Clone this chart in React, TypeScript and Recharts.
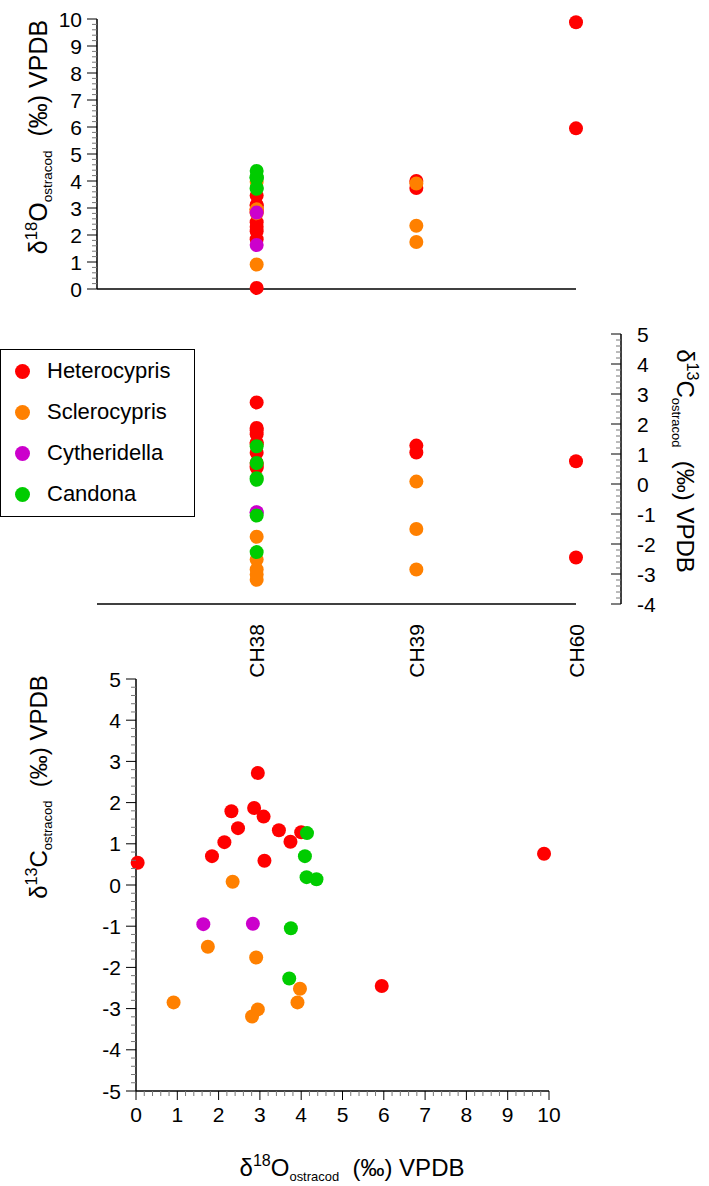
import { Legend, ReferenceLine, Scatter, ScatterChart, XAxis, YAxis } from "recharts";

const FONT = '"Liberation Sans", Arial, Helvetica, sans-serif';

const sites = ["CH38", "CH39", "CH60"];
const species = ["Heterocypris", "Sclerocypris", "Cytheridella", "Candona"];
const colors = ["#ff0000", "#ff8000", "#cc00cc", "#00cc00"];

// per species: site, d18O, d13C
const heteroSite = ["CH38", "CH38", "CH38", "CH38", "CH38", "CH38", "CH38", "CH38", "CH38", "CH38", "CH39", "CH39", "CH60", "CH60"];
const heteroO = [0.04, 2.95, 2.31, 2.86, 3.09, 2.47, 3.46, 2.14, 1.84, 3.11, 4.0, 3.74, 5.95, 9.88];
const heteroC = [0.54, 2.72, 1.79, 1.87, 1.66, 1.38, 1.33, 1.04, 0.7, 0.59, 1.28, 1.05, -2.45, 0.76];

const scleroSite = ["CH38", "CH38", "CH38", "CH38", "CH38", "CH39", "CH39", "CH39"];
const scleroO = [2.91, 3.97, 0.91, 2.95, 2.81, 2.34, 1.74, 3.91];
const scleroC = [-1.76, -2.52, -2.85, -3.02, -3.19, 0.08, -1.5, -2.85];

const cytherSite = ["CH38", "CH38"];
const cytherO = [1.63, 2.83];
const cytherC = [-0.95, -0.94];

const candSite = ["CH38", "CH38", "CH38", "CH38", "CH38", "CH38"];
const candO = [4.14, 4.09, 4.13, 4.37, 3.75, 3.71];
const candC = [1.26, 0.7, 0.19, 0.14, -1.05, -2.27];

const rows = (s: string[], o: number[], c: number[]) =>
  s.map((name, i) => ({ site: sites.indexOf(name) + 1, o: o[i], c: c[i] }));

const series = [
  rows(heteroSite, heteroO, heteroC),
  rows(scleroSite, scleroO, scleroC),
  rows(cytherSite, cytherO, cytherC),
  rows(candSite, candO, candC),
];

const steps = (min: number, max: number) => {
  const out: number[] = [];
  for (let v = min * 5; v <= max * 5; v++) out.push(Math.round(v * 2) / 10);
  return out;
};
const oTicks = steps(0, 10);
const cTicksMid = steps(-4, 5);
const cTicksBottom = steps(-5, 5);

const isMajor = (v: number) => Math.abs(v - Math.round(v)) < 1e-6;

const Dot = (props: any) => <circle cx={props.cx} cy={props.cy} r={7} fill={props.fill} />;

function LeftTick({ x, y, payload }: any) {
  const v = payload.value;
  const major = isMajor(v);
  return (
    <g>
      <line x1={x} x2={x - (major ? 10 : 5)} y1={y} y2={y} stroke={major ? "#000" : "#777"} />
      {major && (
        <text x={x - 15} y={y} dy="0.36em" textAnchor="end" fontSize={21} fontFamily={FONT} fill="#000">
          {Math.round(v)}
        </text>
      )}
    </g>
  );
}

function RightTick({ x, y, payload }: any) {
  const v = payload.value;
  const major = isMajor(v);
  return (
    <g>
      <line x1={x} x2={x - (major ? 10 : 5)} y1={y} y2={y} stroke={major ? "#000" : "#777"} />
      {major && (
        <text x={x + 16} y={y} dy="0.36em" textAnchor="start" fontSize={21} fontFamily={FONT} fill="#000">
          {Math.round(v)}
        </text>
      )}
    </g>
  );
}

function BottomTick({ x, y, payload }: any) {
  const v = payload.value;
  const major = isMajor(v);
  return (
    <g>
      <line x1={x} x2={x} y1={y} y2={y + (major ? 9 : 5)} stroke={major ? "#000" : "#777"} />
      {major && (
        <text x={x} y={y + 31} textAnchor="middle" fontSize={21} fontFamily={FONT} fill="#000">
          {Math.round(v)}
        </text>
      )}
    </g>
  );
}

function SiteTick({ x, y, payload }: any) {
  const tx = x;
  const ty = y + 20;
  return (
    <text
      x={tx}
      y={ty}
      dy="0.36em"
      transform={`rotate(-90, ${tx}, ${ty})`}
      textAnchor="end"
      fontSize={21}
      fontFamily={FONT}
      fill="#000"
    >
      {sites[payload.value - 1]}
    </text>
  );
}

function Title({ x, y, angle, iso, el, size = 24 }: { x: number; y: number; angle: number; iso: string; el: string; size?: number }) {
  return (
    <text
      x={x}
      y={y}
      transform={`rotate(${angle}, ${x}, ${y})`}
      textAnchor="middle"
      fontSize={size}
      fontFamily={FONT}
      fill="#000"
      style={{ whiteSpace: "pre" }}
    >
      <tspan>δ</tspan>
      <tspan fontSize={size * 0.67} dy={-10}>{iso}</tspan>
      <tspan dy={10}>{el}</tspan>
      <tspan fontSize={size * 0.54} dy={5}>ostracod</tspan>
      <tspan dy={-5}>{"  (‰) VPDB"}</tspan>
    </text>
  );
}

function LegendBox({ payload }: any) {
  // keep the series order, not the alphabetical one
  const items = species.map((s, i) => {
    const hit = (payload || []).find((p: any) => p.value === s);
    return { value: s, color: hit ? hit.color : colors[i] };
  });
  return (
    <div
      style={{
        width: 195,
        height: 168,
        border: "1.5px solid #000",
        boxSizing: "border-box",
        background: "#fff",
        position: "relative",
        fontFamily: FONT,
      }}
    >
      {items.map((item, i) => (
        <div
          key={item.value}
          style={{ position: "absolute", left: 0, top: 21 + i * 41 - 13, height: 26, display: "flex", alignItems: "center" }}
        >
          <span style={{ display: "inline-block", width: 15, height: 15, borderRadius: "50%", background: item.color, marginLeft: 14 }} />
          <span style={{ marginLeft: 17, fontSize: 22, lineHeight: "26px", color: "#000" }}>{item.value}</span>
        </div>
      ))}
    </div>
  );
}

const midXMax = (3 * (621 - 97)) / (576 - 97);

export default function App() {
  return (
    <div style={{ position: "absolute", left: 0, top: 0, width: 709, height: 1186, background: "#fff" }}>
      {/* d18O by site */}
      <div style={{ position: "absolute", left: 0, top: 0 }}>
        <ScatterChart width={709} height={300} margin={{ top: 19, right: 133, bottom: 11, left: 0 }}>
          <XAxis type="number" dataKey="site" domain={[0, 3]} hide />
          <YAxis
            type="number"
            dataKey="o"
            domain={[0, 10]}
            ticks={oTicks}
            interval={0}
            width={97}
            tickSize={0}
            tickMargin={0}
            tickLine={false}
            axisLine={{ stroke: "#000", strokeWidth: 1.5 }}
            tick={<LeftTick />}
            label={{ content: () => <Title x={47} y={137} angle={-90} iso="18" el="O" size={25} /> }}
          />
          <ReferenceLine y={0} stroke="#000" strokeWidth={1.5} />
          {series.map((d, i) => (
            <Scatter key={species[i]} name={species[i]} data={d} fill={colors[i]} shape={<Dot />} isAnimationActive={false} />
          ))}
        </ScatterChart>
      </div>

      {/* d13C by site */}
      <div style={{ position: "absolute", left: 0, top: 320 }}>
        <ScatterChart width={709} height={380} margin={{ top: 14, right: 0, bottom: 0, left: 97 }}>
          <XAxis
            type="number"
            dataKey="site"
            domain={[0, midXMax]}
            ticks={[1, 2, 3]}
            interval={0}
            height={96}
            axisLine={false}
            tickLine={false}
            tickSize={0}
            tickMargin={0}
            tick={<SiteTick />}
          />
          <YAxis
            type="number"
            dataKey="c"
            orientation="right"
            domain={[-4, 5]}
            ticks={cTicksMid}
            interval={0}
            width={88}
            tickSize={0}
            tickMargin={0}
            tickLine={false}
            axisLine={{ stroke: "#000", strokeWidth: 1.5 }}
            tick={<RightTick />}
            label={{ content: () => <Title x={677} y={141} angle={90} iso="13" el="C" /> }}
          />
          <ReferenceLine segment={[{ x: 0, y: -4 }, { x: 3, y: -4 }]} stroke="#000" strokeWidth={1.5} />
          {series.map((d, i) => (
            <Scatter key={species[i]} name={species[i]} data={d} fill={colors[i]} shape={<Dot />} isAnimationActive={false} />
          ))}
          <Legend
            layout="vertical"
            align="center"
            verticalAlign="middle"
            content={<LegendBox />}
            wrapperStyle={{ left: 0, top: 29, width: 195, height: 168 }}
          />
        </ScatterChart>
      </div>

      {/* d13C vs d18O */}
      <div style={{ position: "absolute", left: 0, top: 660 }}>
        <ScatterChart width={709} height={526} margin={{ top: 19, right: 160, bottom: 0, left: 0 }}>
          <XAxis
            type="number"
            dataKey="o"
            domain={[0, 10]}
            ticks={oTicks}
            interval={0}
            height={95}
            tickSize={0}
            tickMargin={0}
            tickLine={false}
            axisLine={{ stroke: "#000", strokeWidth: 1.5 }}
            tick={<BottomTick />}
            label={{ content: () => <Title x={352} y={516} angle={0} iso="18" el="O" /> }}
          />
          <YAxis
            type="number"
            dataKey="c"
            domain={[-5, 5]}
            ticks={cTicksBottom}
            interval={0}
            width={136}
            tickSize={0}
            tickMargin={0}
            tickLine={false}
            axisLine={{ stroke: "#000", strokeWidth: 1.5 }}
            tick={<LeftTick />}
            label={{ content: () => <Title x={47} y={127} angle={-90} iso="13" el="C" /> }}
          />
          {series.map((d, i) => (
            <Scatter key={species[i]} name={species[i]} data={d} fill={colors[i]} shape={<Dot />} isAnimationActive={false} />
          ))}
        </ScatterChart>
      </div>
    </div>
  );
}
